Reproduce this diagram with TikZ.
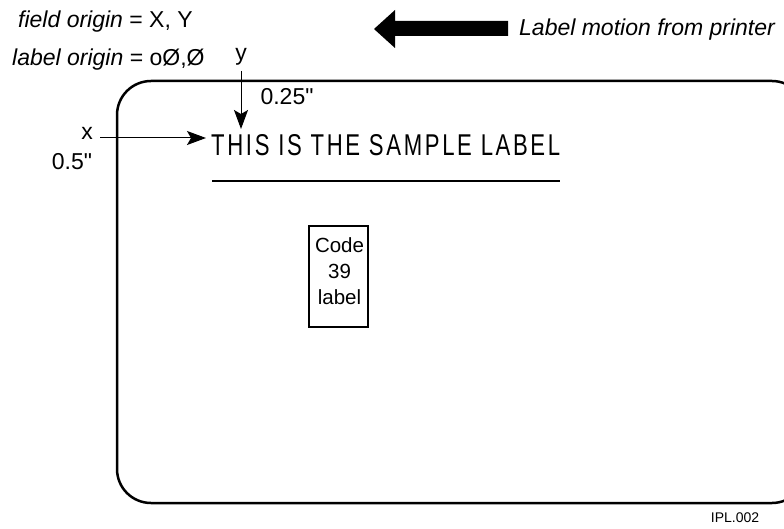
\documentclass[tikz,border=0pt]{standalone}
\usepackage{fontspec}
\usepackage{graphicx}
\setmainfont{Liberation Sans}
\newfontfamily\spacedfont[LetterSpace=12]{Liberation Sans}
\newfontfamily\rawfont{Liberation Sans}
\usetikzlibrary{arrows.meta}
\newcommand{\inchmark}{{\rawfont\symbol{34}}}
\begin{document}
\begin{tikzpicture}[x=1pt,y=-1pt,
  txt/.style={inner sep=0pt,font=\fontsize{23}{27}\selectfont},
  pointer/.style={line width=1pt,-{Stealth[length=19pt,width=14pt,inset=4pt]}},
  labeledge/.style={line width=2.5pt,rounded corners=34pt}]
\useasboundingbox (0,0) rectangle (784,529);
\clip (0,0) rectangle (784,529);
% label outline
\draw[labeledge] (117,81) rectangle (806,503);
% header texts
\node[txt,anchor=base west] (field) at (18,28) {\textit{field origin} = X, Y};
\node[txt,anchor=base west] (lorig) at (12,66) {\textit{label origin} = oØ,Ø};
\node[txt] (ylab) at (241,57) {y};
\node[txt] (xlab) at (87,133) {x};
\node[txt] (ydist) at (287,97) {0.25\inchmark};
\node[txt] (xdist) at (72,162) {0.5\inchmark};
% sample title
\node[inner sep=0pt,anchor=west] (title) at (211,145) {\resizebox{349pt}{21pt}{\spacedfont THIS IS THE SAMPLE LABEL}};
\coordinate (ytip) at (241,129);
\coordinate (ystart) at (241,71);
\coordinate (xstart) at (100,138);
\coordinate (xtip) at (206,138);
\draw[pointer] (ystart) -- (ytip);
\draw[pointer] (xstart) -- (xtip);
% underline
\coordinate (ulA) at (212,181);
\coordinate (ulB) at (560,181);
\draw[line width=1.3pt] (ulA) -- (ulB);
% code 39 box
\node[draw,line width=2pt,minimum width=59pt,minimum height=101pt,inner sep=0pt] (code) at (338.5,276.5) {};
\node[inner sep=0pt,align=center,font=\fontsize{20.5}{26}\selectfont] (codetext) at (339.5,271) {Code\\39\\label};
% label motion arrow
\fill (374,29) -- (395,10) -- (395,21) -- (508,21) -- (508,36) -- (395,36) -- (395,48) -- cycle;
\node[txt,anchor=west] (motion) at (519,30) {\textit{Label motion from printer}};
\node[inner sep=0pt,font=\fontsize{14}{16}\selectfont] (ipl) at (735,518) {IPL.002};
\end{tikzpicture}
\end{document}
